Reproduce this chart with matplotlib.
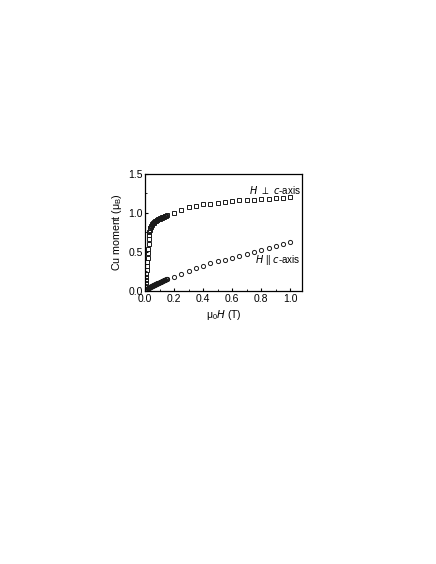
import matplotlib
matplotlib.use("Agg")
import matplotlib.pyplot as plt
from matplotlib.ticker import MultipleLocator

plt.rcParams['font.family'] = ['Liberation Sans', 'DejaVu Sans']

# H perpendicular to c-axis
perp_x = [0.0, 0.002, 0.004, 0.006, 0.008, 0.010, 0.012, 0.014, 0.016, 0.018,
          0.020, 0.022, 0.024, 0.026, 0.028, 0.030, 0.032, 0.034, 0.036, 0.038,
          0.040, 0.045, 0.050, 0.055, 0.060, 0.065, 0.070, 0.075, 0.080, 0.085,
          0.090, 0.095, 0.100, 0.105, 0.110, 0.115, 0.120, 0.125, 0.130, 0.135,
          0.140, 0.145, 0.150,
          0.20, 0.25, 0.30, 0.35, 0.40, 0.45, 0.50, 0.55, 0.60, 0.65, 0.70,
          0.75, 0.80, 0.85, 0.90, 0.95, 1.00]
perp_y = [0.02, 0.06, 0.10, 0.14, 0.18, 0.22, 0.27, 0.32, 0.37, 0.42,
          0.48, 0.54, 0.60, 0.66, 0.71, 0.75, 0.78, 0.80, 0.81, 0.82,
          0.83, 0.845, 0.855, 0.865, 0.875, 0.885, 0.89, 0.90, 0.905, 0.91,
          0.915, 0.92, 0.925, 0.93, 0.935, 0.94, 0.943, 0.947, 0.952, 0.956,
          0.96, 0.965, 0.97,
          1.00, 1.04, 1.07, 1.09, 1.11, 1.12, 1.13, 1.14, 1.15, 1.16, 1.165,
          1.17, 1.175, 1.18, 1.185, 1.19, 1.20]

# H parallel to c-axis
par_x = [0.0, 0.004, 0.008, 0.012, 0.016, 0.020, 0.024, 0.028, 0.032, 0.036,
         0.040, 0.044, 0.048, 0.052, 0.056, 0.060, 0.064, 0.068, 0.072, 0.076,
         0.080, 0.084, 0.088, 0.092, 0.096, 0.100, 0.104, 0.108, 0.112, 0.116,
         0.120, 0.124, 0.128, 0.132, 0.136, 0.140, 0.144, 0.148, 0.150,
         0.20, 0.25, 0.30, 0.35, 0.40, 0.45, 0.50, 0.55, 0.60, 0.65, 0.70,
         0.75, 0.80, 0.85, 0.90, 0.95, 1.00]
par_y = [0.0, 0.008, 0.015, 0.021, 0.026, 0.031, 0.035, 0.039, 0.043, 0.047,
         0.051, 0.055, 0.059, 0.063, 0.067, 0.070, 0.074, 0.078, 0.082, 0.085,
         0.089, 0.093, 0.096, 0.100, 0.104, 0.107, 0.111, 0.114, 0.118, 0.121,
         0.125, 0.128, 0.132, 0.135, 0.139, 0.142, 0.146, 0.149, 0.152,
         0.18, 0.22, 0.25, 0.29, 0.32, 0.35, 0.375, 0.40, 0.425, 0.45, 0.475,
         0.50, 0.525, 0.55, 0.575, 0.60, 0.624]

fig = plt.figure(figsize=(4.36, 5.64), dpi=100)
ax = fig.add_axes([0.3326, 0.4846, 0.3600, 0.2070])

ax.plot(perp_x, perp_y, linestyle='none', marker='s', markersize=2.3,
        markerfacecolor='none', markeredgecolor='#1a1a1a', markeredgewidth=0.7)
ax.plot(par_x, par_y, linestyle='none', marker='o', markersize=3.0,
        markerfacecolor='none', markeredgecolor='#1a1a1a', markeredgewidth=0.7)

ax.set_xlim(0, 1.08)
ax.set_ylim(0, 1.5)
ax.xaxis.set_major_locator(MultipleLocator(0.2))
ax.xaxis.set_minor_locator(MultipleLocator(0.1))
ax.yaxis.set_major_locator(MultipleLocator(0.5))
ax.yaxis.set_minor_locator(MultipleLocator(0.25))
ax.xaxis.set_major_formatter(plt.FuncFormatter(lambda v, p: f"{v:.1f}"))
ax.yaxis.set_major_formatter(plt.FuncFormatter(lambda v, p: f"{v:.1f}"))
ax.tick_params(which='both', direction='in', labelsize=7.5)
ax.tick_params(axis='x', pad=2.5)
ax.tick_params(axis='y', pad=1.5)
ax.tick_params(which='major', length=2.5, width=0.8)
ax.tick_params(which='minor', length=1.5, width=0.6)
for s in ax.spines.values():
    s.set_linewidth(0.9)

ax.set_xlabel(r'$\mathregular{\mu_0}$$\it{H}$ (T)', fontsize=7.5, labelpad=3)
ax.set_ylabel(r'Cu moment ($\mathregular{\mu_B}$)', fontsize=7.7, labelpad=3)

ax.text(1.07, 1.30, r'$\it{H}\ \perp\ \it{c}$-axis', fontsize=7,
        ha='right', va='center')
ax.text(1.07, 0.395, r'$\it{H}$ || $\it{c}$-axis', fontsize=7,
        ha='right', va='center')

fig.savefig('out.png', dpi=100)
